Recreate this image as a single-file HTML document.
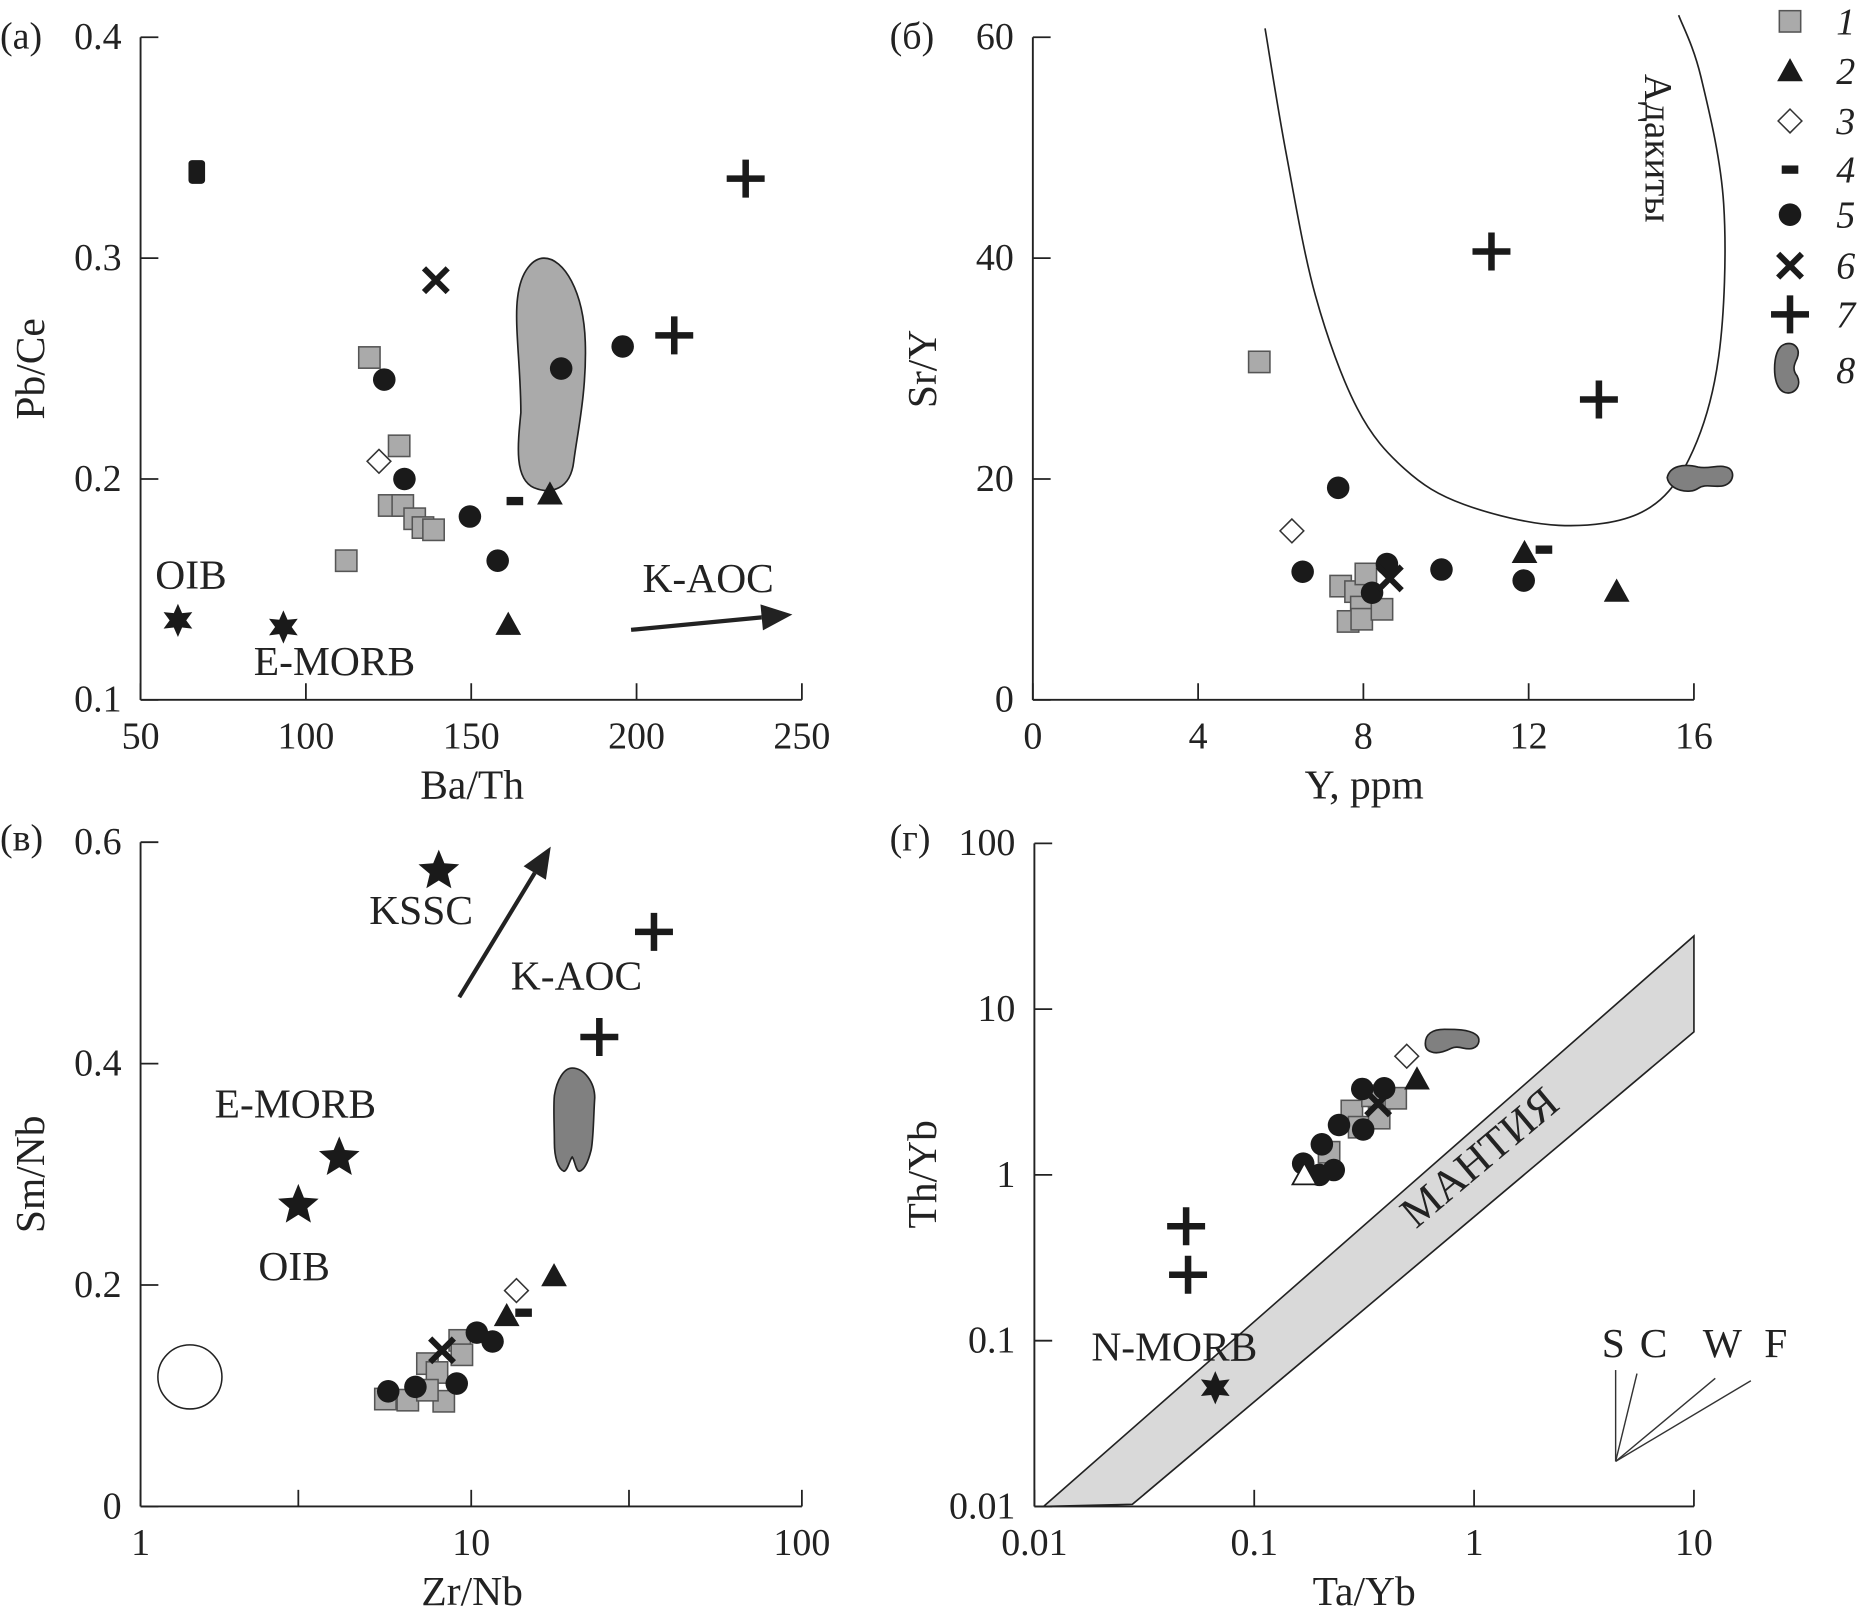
<!DOCTYPE html>
<html><head><meta charset="utf-8"><style>
html,body{margin:0;padding:0;background:#fff;}
svg{display:block;}
svg text{font-family:"Liberation Serif","DejaVu Serif",serif;fill:#222;}
</style></head><body>
<svg id="fig" width="1860" height="1617" viewBox="0 0 1568 1363.2" preserveAspectRatio="none" xmlns="http://www.w3.org/2000/svg" font-family="Liberation Serif, DejaVu Serif, serif">
<g id="layer"></g>
</svg>
<script>
// ---- Panel A data (Ba/Th vs Pb/Ce) ----
const aSqX=[119.2,128.2,125.2,129.3,132.9,135.4,138.6,112.2];
const aSqY=[0.255,0.215,0.188,0.188,0.182,0.178,0.177,0.163];
const aCircX=[123.7,129.8,149.6,158,177.2,195.8];
const aCircY=[0.245,0.200,0.183,0.163,0.250,0.260];
const aTriX=[173.8,161.2];
const aTriY=[0.193,0.134];
const aDiaX=[122.1];const aDiaY=[0.208];
const aDashX=[163.2];const aDashY=[0.190];
const aXX=[139.3];const aXY=[0.290];
const aPlusX=[233,211.4];const aPlusY=[0.336,0.265];
const aRectX=[67];const aRectY=[0.339];
const aStarX=[61.3,93.2];const aStarY=[0.136,0.133];
const aXTicks=[50,100,150,200,250];
const aYTicks=[0.1,0.2,0.3,0.4];
// ---- Panel B data (Y vs Sr/Y) ----
const bSqX=[5.48,7.45,7.81,8.06,7.95,7.63,7.96,8.45];
const bSqY=[30.6,10.3,9.8,11.4,8.4,7.1,7.3,8.2];
const bCircX=[7.39,6.53,8.21,8.57,9.89,11.88];
const bCircY=[19.2,11.6,9.7,12.3,11.8,10.8];
const bTriX=[11.9,14.13];const bTriY=[13.3,9.8];
const bDiaX=[6.27];const bDiaY=[15.3];
const bDashX=[12.37];const bDashY=[13.6];
const bXX=[8.64];const bXY=[11.0];
const bPlusX=[11.1,13.7];const bPlusY=[40.6,27.2];
const bXTicks=[0,4,8,12,16];
const bYTicks=[0,20,40,60];
// ---- Panel C data (Zr/Nb vs Sm/Nb) ----
const cSqX=[5.5,6.43,8.26,7.37,7.88,9.23,9.37,7.37];
const cSqY=[0.097,0.096,0.095,0.129,0.121,0.150,0.137,0.105];
const cCircX=[5.61,6.78,9.04,10.4,11.6];
const cCircY=[0.104,0.108,0.111,0.157,0.149];
const cTriX=[17.8,12.8];const cTriY=[0.208,0.172];
const cDiaX=[13.7];const cDiaY=[0.195];
const cDashX=[14.4];const cDashY=[0.175];
const cXX=[8.16];const cXY=[0.141];
const cPlusX=[35.7,24.4];const cPlusY=[0.519,0.424];
const cStarX=[7.98,3.99,3.0];const cStarY=[0.574,0.315,0.272];
const cXTicks=[1,10,100];
const cYTicks=[0,0.2,0.4,0.6];
// ---- Panel D data (Ta/Yb vs Th/Yb) ----
const dSqX=[0.219,0.278,0.30,0.37,0.44,0.345];
const dSqY=[1.37,2.43,1.94,2.2,2.9,3.0];
const dCircX=[0.167,0.198,0.23,0.203,0.243,0.313,0.31,0.39];
const dCircY=[1.17,1.0,1.07,1.53,2.0,1.88,3.3,3.33];
const dTriX=[0.55];const dTriY=[3.77];
const dOpenTriX=[0.169];const dOpenTriY=[1.0];
const dDiaX=[0.494];const dDiaY=[5.2];
const dXX=[0.366];const dXY=[2.7];
const dPlusX=[0.049,0.050];const dPlusY=[0.49,0.25];
const dStarX=[0.0665];const dStarY=[0.052];
const dXTicks=[0.01,0.1,1,10];
const dYTicks=[0.01,0.1,1,10,100];

const NS="http://www.w3.org/2000/svg";
const root=document.getElementById('layer');
const FONT='"Liberation Serif", "DejaVu Serif", serif';
function mk(tag,attrs,parent){const e=document.createElementNS(NS,tag);for(const k in attrs)e.setAttribute(k,attrs[k]);(parent||root).appendChild(e);return e;}
function lin(d0,d1,p0,p1){return v=>p0+(v-d0)/(d1-d0)*(p1-p0);}
function lg(d0,d1,p0,p1){return v=>p0+(Math.log10(v)-Math.log10(d0))/(Math.log10(d1)-Math.log10(d0))*(p1-p0);}

const ax={
 a:{x:lin(50,250,118.5,676),y:lin(0.1,0.4,590,31.4)},
 b:{x:lin(0,16,870.7,1428),y:lin(0,60,590,31.4)},
 c:{x:lg(1,100,118.5,676),y:lin(0,0.6,1270,710)},
 d:{x:lg(0.01,10,872,1428),y:lg(0.01,100,1270,711)}
};

function txt(s,x,y,size,anchor,parent,extra){const t=mk('text',Object.assign({x:x,y:y,'font-size':size,'text-anchor':anchor||'start','font-family':FONT,fill:'#222'},extra||{}),parent);t.style.fontFamily=FONT;t.textContent=s;return t;}

function axes(p,xt,yt,xfmt,yfmt,minorX){
  const A=ax[p];const g=mk('g',{});
  
  
  const x0=A.x(xt[0]),x1=A.x(xt[xt.length-1]),y0=A.y(yt[0]),y1=A.y(yt[yt.length-1]);
  const xl=mk('line',{x1:x0,y1:y0,x2:x1,y2:y0,stroke:'#222','stroke-width':1.6},g);
  
  
  const yl=mk('line',{x1:x0,y1:y0,x2:x0,y2:y1,stroke:'#222','stroke-width':1.6},g);
  
  
  xt.forEach((v,i)=>{const X=A.x(v);
    mk('line',{x1:X,y1:y0,x2:X,y2:y0-14,stroke:'#222','stroke-width':1.5},g);
    const t=txt(xfmt(v),X,y0+41,32,'middle',g);
    
    
  });
  (minorX||[]).forEach(v=>{const X=A.x(v);mk('line',{x1:X,y1:y0,x2:X,y2:y0-14,stroke:'#222','stroke-width':1.5},g);});
  yt.forEach((v,i)=>{const Y=A.y(v);
    mk('line',{x1:x0,y1:Y,x2:x0+15,y2:Y,stroke:'#222','stroke-width':1.5},g);
    const t=txt(yfmt(v),x0-16,Y+10,32,'end',g);
    
    
  });
  return g;
}
axes('a',aXTicks,aYTicks,v=>String(v),v=>v.toFixed(1));
axes('b',bXTicks,bYTicks,v=>String(v),v=>String(v));
axes('c',cXTicks,cYTicks,v=>String(v),v=>v===0?'0':v.toFixed(1),[3,30]);
axes('d',dXTicks,dYTicks,v=>String(v),v=>String(v));

function label(s,x,y,size,name,rot,anchor,style){
  const t=txt(s,x,y,size,anchor||'middle',null,rot!==undefined?{transform:'rotate('+rot+' '+x+' '+y+')'}:{});
  if(style)t.setAttribute('font-style',style);
  
  
  return t;
}
label('(а)',0,41,32,'panel-a-label',undefined,'start');
label('(б)',750,41,32,'panel-b-label',undefined,'start');
label('(в)',0,717,32,'panel-c-label',undefined,'start');
label('(г)',750,717,32,'panel-d-label',undefined,'start');
label('Ba/Th',398,673,35,'x-axis-title-a');
label('Y, ppm',1150,673,35,'x-axis-title-b');
label('Zr/Nb',398,1353,35,'x-axis-title-c');
label('Ta/Yb',1150,1353,35,'x-axis-title-d');
label('Pb/Ce',37,311,35,'y-axis-title-a',-90);
label('Sr/Y',789,311,35,'y-axis-title-b',-90);
label('Sm/Nb',37,990,35,'y-axis-title-c',-90);
label('Th/Yb',789,990,35,'y-axis-title-d',-90);

function pathFrom(A,pts,close){return pts.map((p,i)=>(i?'L':'M')+A.x(p[0]).toFixed(1)+' '+A.y(p[1]).toFixed(1)).join(' ')+(close?' Z':'');}
const mantleX=[0.011,0.0279,10,10];
const mantleY=[0.0100,0.0103,7.3,27.6];
const mp=mk('path',{d:pathFrom(ax.d,mantleX.map((v,i)=>[v,mantleY[i]]),true),fill:'#d9d9d9',stroke:'#222','stroke-width':1.4});


label('МАНТИЯ',1255,985,37,'mantle-label',-40);
const adX=[5.62,6.13,6.84,7.85,9.0,10.43,12.73,14.74,15.88,16.6,16.72,16.17,15.63];
const adY=[60.8,49.5,36.6,26.4,20.9,17.7,15.8,17.0,21.8,31.1,44.9,56.4,62];
(function(){const A=ax.b;const P=adX.map((v,i)=>[A.x(v),A.y(adY[i])]);
 let d='M'+P[0][0]+' '+P[0][1];
 for(let i=0;i<P.length-1;i++){const p0=P[i-1]||P[i],p1=P[i],p2=P[i+1],p3=P[i+2]||P[i+1];
  d+=' C'+(p1[0]+(p2[0]-p0[0])/6)+' '+(p1[1]+(p2[1]-p0[1])/6)+' '+(p2[0]-(p3[0]-p1[0])/6)+' '+(p2[1]-(p3[1]-p1[1])/6)+' '+p2[0]+' '+p2[1];}
 const c=mk('path',{d:d,fill:'none',stroke:'#222','stroke-width':1.4});
 
 })();
label('Адакиты',1387,125,33,'adakite-label',90);

function blob(d,name){const b=mk('path',{d:d,fill:'#808080',stroke:'#222','stroke-width':1.4});
 
 return b;}
(function(){const A=ax.a;
 const x=v=>A.x(v).toFixed(1),y=v=>A.y(v).toFixed(1);
 const d='M'+x(172)+' '+y(0.300)+' C'+x(178)+' '+y(0.300)+' '+x(184)+' '+y(0.285)+' '+x(184.5)+' '+y(0.262)+
 ' C'+x(185)+' '+y(0.240)+' '+x(182)+' '+y(0.220)+' '+x(181)+' '+y(0.208)+' C'+x(180)+' '+y(0.195)+' '+x(174)+' '+y(0.193)+' '+x(169)+' '+y(0.196)+
 ' C'+x(163)+' '+y(0.200)+' '+x(164)+' '+y(0.215)+' '+x(165)+' '+y(0.230)+' C'+x(165)+' '+y(0.250)+' '+x(163)+' '+y(0.270)+' '+x(164)+' '+y(0.282)+
 ' C'+x(165)+' '+y(0.295)+' '+x(169)+' '+y(0.300)+' '+x(172)+' '+y(0.300)+' Z';
 const b=blob(d,'field-8-panel-a');b.setAttribute('fill','#aaaaaa');})();
(function(){const cx=ax.b.x(16.1),cy=ax.b.y(19.9);
 blob('M'+(cx-26)+' '+(cy-2)+' c2 -10 14 -12 26 -9 c10 2 18 -3 26 1 c6 4 3 14 -6 15 c-8 1 -14 -2 -20 2 c-7 5 -24 2 -26 -9 Z','field-8-panel-b');})();
(function(){const cx=ax.c.x(20.2),top=ax.c.y(0.396);
 blob('M'+cx+' '+top+' c10 0 19 12 19 25 c-1 14 -1 34 -3 44 c-2 8 -5 17 -10 18 c-3 0 -4 -10 -6 -12 c-2 2 -4 12 -7 12 c-5 -2 -8 -12 -8 -24 c0 -14 -1 -30 0 -40 c2 -13 8 -23 15 -23 Z','field-8-panel-c');})();
(function(){const x0=ax.d.x(0.60),y0=ax.d.y(6.2);
 blob('M'+x0+' '+y0+' c0 -8 6 -12 16 -12 c10 0 20 0 26 4 c5 3 4 10 -2 12 c-6 2 -12 -3 -18 0 c-6 3 -12 5 -17 3 c-4 -1 -5 -4 -5 -7 Z','field-8-panel-d');})();
const oc=mk('ellipse',{cx:ax.c.x(1.41),cy:ax.c.y(0.117),rx:27,ry:27,fill:'#fff',stroke:'#222','stroke-width':1.3});



function arrow(x1,y1,x2,y2,name){const g=mk('g',{});
 
 
 const ang=Math.atan2(y2-y1,x2-x1),L=26,W=11;
 const bx=x2-L*Math.cos(ang),by=y2-L*Math.sin(ang);
 mk('line',{x1:x1,y1:y1,x2:bx,y2:by,stroke:'#222','stroke-width':3.5},g);
 mk('polygon',{points:[x2,y2,bx+W*Math.sin(ang),by-W*Math.cos(ang),bx-W*Math.sin(ang),by+W*Math.cos(ang)].join(' '),fill:'#222'},g);}
arrow(532,531,668,518,'k-aoc-arrow-a');
arrow(ax.c.x(9.2),ax.c.y(0.460),ax.c.x(17.4),ax.c.y(0.596),'k-aoc-arrow-c');

(function(){const g=mk('g',{stroke:'#333','stroke-width':1.2});
 
 
 const ox=1362,oy=1232;
 [[1362,1155],[1380,1158],[1446,1162],[1476,1164]].forEach(p=>mk('line',{x1:ox,y1:oy,x2:p[0],y2:p[1]},g));})();
['S','C','W','F'].forEach((s,i)=>{label(s,[1360,1394,1452,1497][i],1144,35,'vector-label-'+s);});

function sq(x,y,n){return mk('rect',{x:x-9,y:y-9,width:18,height:18,fill:'#aaaaaa',stroke:'#555','stroke-width':1.3});}
function circ(x,y){return mk('circle',{cx:x,cy:y,r:9.5,fill:'#1a1a1a'});}
function tri(x,y,open){return mk('polygon',{points:[x,y-10,x+10,y+8,x-10,y+8].join(' '),fill:open?'#fff':'#1a1a1a',stroke:'#1a1a1a','stroke-width':open?1.5:1});}
function dia(x,y){return mk('polygon',{points:[x,y-10,x+10,y,x,y+10,x-10,y].join(' '),fill:'#fff',stroke:'#333','stroke-width':1.3});}
function dash(x,y){return mk('rect',{x:x-7,y:y-3.5,width:14,height:7,fill:'#1a1a1a'});}
function xm(x,y){return mk('path',{d:`M${x-10} ${y-10}L${x+10} ${y+10}M${x+10} ${y-10}L${x-10} ${y+10}`,stroke:'#1a1a1a','stroke-width':5});}
function plus(x,y){return mk('path',{d:`M${x-16} ${y}L${x+16} ${y}M${x} ${y-16}L${x} ${y+16}`,stroke:'#1a1a1a','stroke-width':5.5});}
function rrect(x,y){return mk('rect',{x:x-7,y:y-10,width:14,height:20,rx:3,fill:'#1a1a1a'});}
function star(x,y,n,R,r){let p=[];for(let i=0;i<2*n;i++){const a=-Math.PI/2+i*Math.PI/n,rr=i%2?r:R;p.push((x+rr*Math.cos(a)).toFixed(1),(y+rr*Math.sin(a)).toFixed(1));}return mk('polygon',{points:p.join(' '),fill:'#1a1a1a'});}

function plot(p,X,Y,fn,name){const A=ax[p];X.forEach((v,i)=>{const e=fn(A.x(v),A.y(Y[i]));
 
 });}

plot('a',aSqX,aSqY,sq,'point-type1');plot('a',aCircX,aCircY,circ,'point-type5');plot('a',aTriX,aTriY,(x,y)=>tri(x,y),'point-type2');
plot('a',aDiaX,aDiaY,dia,'point-type3');plot('a',aDashX,aDashY,dash,'point-type4');plot('a',aXX,aXY,xm,'point-type6');
plot('a',aPlusX,aPlusY,plus,'point-type7');plot('a',aRectX,aRectY,rrect,'point-type4-large');plot('a',aStarX,aStarY,(x,y)=>star(x,y,6,14,7),'reference-star');
plot('b',bSqX,bSqY,sq,'point-type1');plot('b',bCircX,bCircY,circ,'point-type5');plot('b',bTriX,bTriY,(x,y)=>tri(x,y),'point-type2');
plot('b',bDiaX,bDiaY,dia,'point-type3');plot('b',bDashX,bDashY,dash,'point-type4');plot('b',bXX,bXY,xm,'point-type6');plot('b',bPlusX,bPlusY,plus,'point-type7');
plot('c',cSqX,cSqY,sq,'point-type1');plot('c',cCircX,cCircY,circ,'point-type5');plot('c',cTriX,cTriY,(x,y)=>tri(x,y),'point-type2');
plot('c',cDiaX,cDiaY,dia,'point-type3');plot('c',cDashX,cDashY,dash,'point-type4');plot('c',cXX,cXY,xm,'point-type6');plot('c',cPlusX,cPlusY,plus,'point-type7');
plot('c',cStarX,cStarY,(x,y)=>star(x,y,5,18,8),'reference-star');
plot('d',dSqX,dSqY,sq,'point-type1');plot('d',dCircX,dCircY,circ,'point-type5');plot('d',dTriX,dTriY,(x,y)=>tri(x,y),'point-type2');
plot('d',dOpenTriX,dOpenTriY,(x,y)=>tri(x,y,true),'point-open-triangle');
plot('d',dDiaX,dDiaY,dia,'point-type3');plot('d',dXX,dXY,xm,'point-type6');plot('d',dPlusX,dPlusY,plus,'point-type7');
plot('d',dStarX,dStarY,(x,y)=>star(x,y,6,14,7),'reference-star');

label('OIB',161,496,35,'oib-label-a');label('E-MORB',282,569,35,'emorb-label-a');label('K-AOC',597,499,35,'kaoc-label-a');
label('KSSC',355,779,35,'kssc-label-c');label('K-AOC',486,834,35,'kaoc-label-c');label('E-MORB',249,942,35,'emorb-label-c');label('OIB',248,1079,35,'oib-label-c');
label('N-MORB',990,1147,35,'nmorb-label-d');

(function(){const g=mk('g',{});
 
 
 const ys=[18,60,102,143,181,224,265,312];const cx=1509;
 const fns=[sq,(x,y)=>tri(x,y),dia,dash,circ,xm,plus,null];
 ys.forEach((y,i)=>{let e;
  if(fns[i])e=fns[i](cx,y);
  else e=mk('path',{d:`M${cx-4} ${y-22} c8 -2 13 4 10 12 c-3 6 -4 10 0 15 c4 8 -2 16 -10 14 c-7 -2 -9 -12 -9 -20 c0 -9 2 -19 9 -21 Z`,fill:'#808080',stroke:'#222','stroke-width':1.4});
  
  
  g.appendChild(e);
  const t=txt(String(i+1),1556,y+11,32,'middle',g,{'font-style':'italic'});
  
  
 });})();
</script>
</body></html>
